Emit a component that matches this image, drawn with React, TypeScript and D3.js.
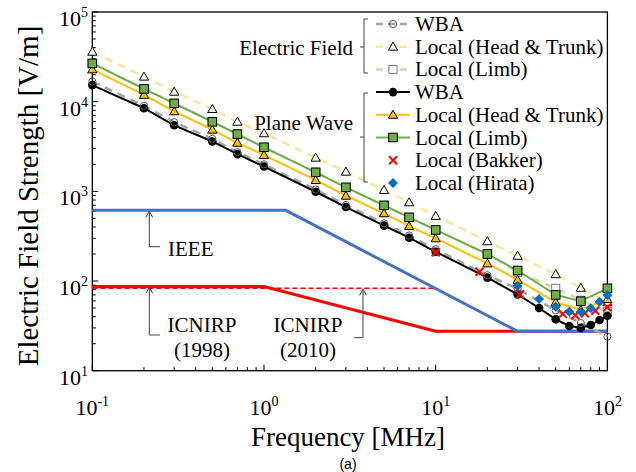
import * as d3 from 'd3'

// frequencies [MHz]
const freqLocal = [0.1, 0.2, 0.3, 0.5, 0.7, 1, 2, 3, 5, 7, 10, 20, 30, 50, 70, 100]
const freqWba = [0.1, 0.2, 0.3, 0.5, 0.7, 1, 2, 3, 5, 7, 10, 20, 30, 40, 50, 60, 70, 80, 90, 100]

// plane wave [V/m]
const pwWba = [15300, 8450, 5450, 3600, 2600, 1890, 990, 668, 415, 304, 212, 109, 71, 50, 37.4, 31.5, 30, 32.3, 36.7, 41]
const pwHeadTrunk = [22900, 11900, 7800, 4870, 3480, 2540, 1336, 893, 569, 410, 299, 157, 103, 58, 47.5, 63]
const pwLimb = [26700, 13900, 9570, 5970, 4350, 3100, 1630, 1108, 698, 513, 371, 200, 131, 70, 59.5, 83]

// electric field exposure [V/m]
const efWba = [16800, 9000, 5900, 3850, 2740, 2000, 1050, 705, 440, 322, 226, 116, 82, 47, 34, 24]
const efHeadTrunk = [36000, 19000, 12900, 8280, 5970, 4440, 2370, 1655, 1035, 754, 531, 277, 191, 119, 84, 58]
const efLimb = [26700, 13900, 9570, 5970, 4350, 3100, 1630, 1108, 698, 513, 371, 200, 125, 83, 61, 46]

// other studies
const bakkerFreq = [10, 18, 31, 55, 65, 74, 85, 100]
const bakkerVal = [209, 127, 71, 43, 41.5, 43.7, 46.7, 51]
const hirataFreq = [30, 40, 50, 60, 70, 80, 90, 100]
const hirataVal = [88, 63, 51.6, 45.5, 45.5, 49.6, 58.8, 69.9]

// reference levels
const ieeeFreq = [0.1, 1.34, 30, 100]
const ieeeVal = [614, 614, 27.5, 27.5]
const icnirp98Freq = [0.1, 1, 10, 100]
const icnirp98Val = [87, 87, 27.5, 27.5]
const icnirp10Freq = [0.1, 10]
const icnirp10Val = [83, 83]

const xTickExp = [-1, 0, 1, 2]
const yTickExp = [1, 2, 3, 4, 5]

const serif = "'Liberation Serif', 'Times New Roman', 'DejaVu Serif', serif"

const C = {
  black: '#000000',
  orange: '#FFC000',
  green: '#70AD47',
  gray: '#A6A6A6',
  lightYellow: '#FFE699',
  lightGreen: '#C5E0B4',
  red: '#FF0000',
  blue: '#0070C0',
  ieee: '#4472C4',
}

type Kind = 'dot' | 'tri' | 'sq' | 'openCircle' | 'openTri' | 'openSq' | 'cross' | 'diamond'

function Marker({ kind, cx, cy }: { kind: Kind; cx: number; cy: number }) {
  switch (kind) {
    case 'dot':
      return <circle cx={cx} cy={cy} r={4.3} fill="#000" />
    case 'openCircle':
      return <circle cx={cx} cy={cy} r={3.6} fill="none" stroke="#595959" strokeWidth={1} />
    case 'tri': {
      const s = 4.6
      return <path d={`M${cx},${cy - s}L${cx + s},${cy + s * 0.75}L${cx - s},${cy + s * 0.75}Z`} fill={C.orange} stroke="#000" strokeWidth={1} />
    }
    case 'openTri': {
      const s = 4.6
      return <path d={`M${cx},${cy - s}L${cx + s},${cy + s * 0.75}L${cx - s},${cy + s * 0.75}Z`} fill="#fff" stroke="#000" strokeWidth={1} />
    }
    case 'sq':
      return <rect x={cx - 4.3} y={cy - 4.3} width={8.6} height={8.6} fill={C.green} stroke="#000" strokeWidth={1} />
    case 'openSq':
      return <rect x={cx - 4} y={cy - 4} width={8} height={8} fill="#fff" stroke="#7F7F7F" strokeWidth={1} />
    case 'cross':
      return (
        <path d={`M${cx - 4},${cy - 4}L${cx + 4},${cy + 4}M${cx - 4},${cy + 4}L${cx + 4},${cy - 4}`} stroke={C.red} strokeWidth={2} />
      )
    case 'diamond': {
      const s = 5
      return <path d={`M${cx},${cy - s}L${cx + s},${cy}L${cx},${cy + s}L${cx - s},${cy}Z`} fill={C.blue} />
    }
  }
}

function Pow({ x, y, exp, anchor }: { x: number; y: number; exp: number; anchor: string }) {
  return (
    <text x={x} y={y} textAnchor={anchor} style={{ fontFamily: serif, fontSize: 22 }} fill="#000">
      10
      <tspan style={{ fontSize: 14 }} dy={-9}>{exp}</tspan>
    </text>
  )
}

export default function App() {
  const x = d3.scaleLog().domain([0.1, 100]).range([92.3, 607.4])
  const y = d3.scaleLog().domain([10, 1e5]).range([370.7, 12])
  const [x0, x1] = x.range()
  const [yb, yt] = y.range()

  const path = (fs: number[], vs: number[]) => d3.line()(fs.map((f, i) => [x(f), y(vs[i])]))

  const xMinor = x.ticks().filter(t => Math.abs(Math.log10(t) - Math.round(Math.log10(t))) > 1e-6)
  const yMinor = y.ticks().filter(t => Math.abs(Math.log10(t) - Math.round(Math.log10(t))) > 1e-6)

  const series = (fs: number[], vs: number[], kind: Kind) =>
    fs.map((f, i) => <Marker key={i} kind={kind} cx={x(f)} cy={y(vs[i])} />)

  // legend rows
  const lgX0 = 376
  const lgX1 = 410
  const lgTx = 415
  const rows: { label: string; kind: Kind; color?: string; dash?: string }[] = [
    { label: 'WBA', kind: 'openCircle', color: C.gray, dash: '7,5' },
    { label: 'Local (Head & Trunk)', kind: 'openTri', color: C.lightYellow, dash: '7,5' },
    { label: 'Local (Limb)', kind: 'openSq', color: C.lightGreen, dash: '7,5' },
    { label: 'WBA', kind: 'dot', color: C.black },
    { label: 'Local (Head & Trunk)', kind: 'tri', color: C.orange },
    { label: 'Local (Limb)', kind: 'sq', color: C.green },
    { label: 'Local (Bakker)', kind: 'cross' },
    { label: 'Local (Hirata)', kind: 'diamond' },
  ]
  const rowY = (i: number) => 24 + i * 22.7

  const arrowHead = (ax: number, ay: number) => `M${ax - 3.5},${ay + 6}L${ax},${ay}L${ax + 3.5},${ay + 6}`
  const txt = { fontFamily: serif, fontSize: 21 }

  return (
    <svg width={636} height={472} style={{ position: 'absolute', left: 0, top: 0, background: '#fff' }}>
      {/* frame */}
      <rect x={x0} y={yt} width={x1 - x0} height={yb - yt} fill="none" stroke="#000" strokeWidth={1.3} />

      {/* ticks, inside */}
      {xTickExp.map(e => (
        <line key={'xm' + e} x1={x(10 ** e)} x2={x(10 ** e)} y1={yb} y2={yb - 6} stroke="#000" />
      ))}
      {xMinor.map((t, i) => (
        <line key={'xn' + i} x1={x(t)} x2={x(t)} y1={yb} y2={yb - 3.5} stroke="#000" />
      ))}
      {yTickExp.map(e => (
        <line key={'ym' + e} x1={x0} x2={x0 + 6} y1={y(10 ** e)} y2={y(10 ** e)} stroke="#000" />
      ))}
      {yMinor.map((t, i) => (
        <line key={'yn' + i} x1={x0} x2={x0 + 3.5} y1={y(t)} y2={y(t)} stroke="#000" />
      ))}

      {/* tick labels */}
      {xTickExp.map(e => (
        <Pow key={'xl' + e} x={x(10 ** e)} y={415} exp={e} anchor="middle" />
      ))}
      {yTickExp.map(e => (
        <Pow key={'yl' + e} x={88} y={y(10 ** e) + 14} exp={e} anchor="end" />
      ))}

      {/* axis titles */}
      <text x={348} y={446} textAnchor="middle" style={{ fontFamily: serif, fontSize: 27 }}>Frequency [MHz]</text>
      <text transform="translate(38,196) rotate(-90)" textAnchor="middle" style={{ fontFamily: serif, fontSize: 29 }}>
        Electric Field Strength [V/m]
      </text>
      <text x={348} y={469} textAnchor="middle" style={{ fontFamily: "'Liberation Sans', Arial, sans-serif", fontSize: 14 }}>(a)</text>

      {/* reference levels */}
      <path d={path(icnirp98Freq, icnirp98Val)!} fill="none" stroke={C.red} strokeWidth={3} />
      <path d={path(icnirp10Freq, icnirp10Val)!} fill="none" stroke={C.red} strokeWidth={1.6} strokeDasharray="5,3" />
      <path d={path(ieeeFreq, ieeeVal)!} fill="none" stroke={C.ieee} strokeWidth={3} />

      {/* annotations */}
      <g stroke="#404040" strokeWidth={1} fill="none">
        <path d={`M149.3,${y(614) + 1}V246.7H160`} />
        <path d={arrowHead(149.3, y(614) + 1)} />
        <path d={`M149.3,${y(87) + 1}V335H160`} />
        <path d={arrowHead(149.3, y(87) + 1)} />
        <path d={`M363,${y(83) + 1}V337.7H354`} />
        <path d={arrowHead(363, y(83) + 1)} />
      </g>
      <g style={txt}>
        <text x={168} y={256}>IEEE</text>
        <text x={202} y={332} textAnchor="middle">ICNIRP</text>
        <text x={202} y={357} textAnchor="middle">(1998)</text>
        <text x={308} y={332} textAnchor="middle">ICNIRP</text>
        <text x={308} y={357} textAnchor="middle">(2010)</text>
      </g>

      {/* electric field exposure */}
      <path d={path(freqLocal, efHeadTrunk)!} fill="none" stroke={C.lightYellow} strokeWidth={2.5} strokeDasharray="8,6" />
      <path d={path(freqLocal, efLimb)!} fill="none" stroke={C.lightGreen} strokeWidth={2.5} strokeDasharray="8,6" />
      <path d={path(freqLocal, efWba)!} fill="none" stroke={C.gray} strokeWidth={2.5} strokeDasharray="8,6" />
      {series(freqLocal, efHeadTrunk, 'openTri')}
      {series(freqLocal, efLimb, 'openSq')}

      {/* plane wave exposure */}
      <path d={path(freqWba, pwWba)!} fill="none" stroke={C.black} strokeWidth={2} />
      <path d={path(freqLocal, pwHeadTrunk)!} fill="none" stroke={C.orange} strokeWidth={2} />
      <path d={path(freqLocal, pwLimb)!} fill="none" stroke={C.green} strokeWidth={2} />
      {series(freqWba, pwWba, 'dot')}
      {series(freqLocal, pwHeadTrunk, 'tri')}
      {series(freqLocal, pwLimb, 'sq')}
      {series(freqLocal, efWba, 'openCircle')}

      {series(bakkerFreq, bakkerVal, 'cross')}
      {series(hirataFreq, hirataVal, 'diamond')}

      {/* legend */}
      <g stroke="#404040" strokeWidth={1} fill="none">
        <path d="M368,19H364V73H368M364,47H360" />
        <path d="M368,93H364V182H368M364,137H360" />
      </g>
      <g style={txt}>
        <text x={353} y={55} textAnchor="end">Electric Field</text>
        <text x={353} y={130} textAnchor="end">Plane Wave</text>
      </g>
      {rows.map((r, i) => (
        <g key={'lg' + i}>
          {r.color && (
            <line x1={lgX0} x2={lgX1} y1={rowY(i)} y2={rowY(i)} stroke={r.color} strokeWidth={r.dash ? 2.5 : 2} strokeDasharray={r.dash} />
          )}
          <Marker kind={r.kind} cx={(lgX0 + lgX1) / 2} cy={rowY(i)} />
          <text x={lgTx} y={rowY(i) + 7} style={txt}>{r.label}</text>
        </g>
      ))}
    </svg>
  )
}
